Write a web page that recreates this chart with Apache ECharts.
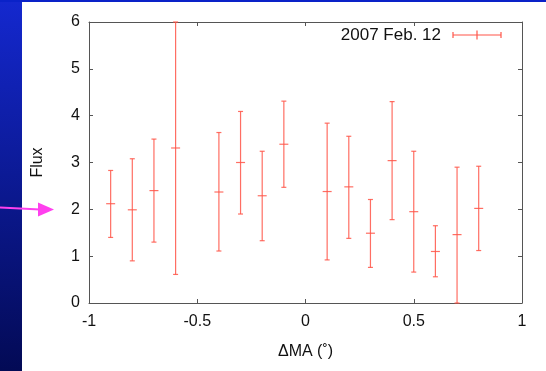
<!DOCTYPE html>
<html><head><meta charset="utf-8">
<script src="https://cdn.jsdelivr.net/npm/echarts@6/dist/echarts.min.js"></script>
<style>
html,body{margin:0;padding:0;width:546px;height:371px;overflow:hidden;background:#fff;}
#c{width:546px;height:371px;}
</style></head><body><div id="c"></div>
<script>
// Data
const deltaMA = [-0.9,-0.8,-0.7,-0.6,-0.4,-0.3,-0.2,-0.1,0.1,0.2,0.3,0.4,0.5,0.6,0.7,0.8];
const flux    = [2.12,1.99,2.40,3.31,2.37,3.00,2.29,3.39,2.38,2.48,1.49,3.04,1.95,1.10,1.46,2.02];
const fluxLow = [1.40,0.90,1.30,0.61,1.11,1.90,1.33,2.47,0.92,1.38,0.76,1.78,0.66,0.56,0.00,1.12];
const fluxHigh= [2.83,3.08,3.50,6.00,3.64,4.09,3.24,4.31,3.84,3.56,2.21,4.30,3.24,1.65,2.90,2.92];
const xTicks = [-1,-0.5,0,0.5,1];
const yTicks = [0,1,2,3,4,5,6];
const seriesName = '2007 Feb. 12';

const data = deltaMA.map((x,i)=>[x, flux[i], fluxLow[i], fluxHigh[i]]);
const RED = '#ff5548';
const chart = echarts.init(document.getElementById('c'), null, {renderer:'canvas'});
function axisCommon(){ return {
  axisLine:{show:true, onZero:false, lineStyle:{color:'#555', width:1}},
  axisTick:{show:true, inside:true, length:4, lineStyle:{color:'#555'}},
  splitLine:{show:false}
};}
chart.setOption({
  animation:false,
  backgroundColor:'#fff',
  grid:{left:89, right:24, top:22, bottom:68, containLabel:false},
  xAxis:[
    Object.assign({type:'value', min:-1, max:1, interval:0.5, position:'bottom',
      axisLabel:{color:'#111', fontFamily:'Liberation Sans', fontSize:16, margin:11,
        formatter:v=>String(v)},
      name:'ΔMA (˚)', nameLocation:'middle', nameGap:41,
      nameTextStyle:{color:'#111', fontFamily:'Liberation Sans', fontSize:16}}, axisCommon()),
    Object.assign({type:'value', min:-1, max:1, interval:0.5, position:'top',
      axisLabel:{show:false}}, axisCommon())
  ],
  yAxis:[
    Object.assign({type:'value', min:0, max:6, interval:1, position:'left',
      axisLabel:{color:'#111', fontFamily:'Liberation Sans', fontSize:16, margin:9},
      name:'Flux', nameLocation:'middle', nameGap:43, nameRotate:90,
      nameTextStyle:{color:'#111', fontFamily:'Liberation Sans', fontSize:16}}, axisCommon()),
    Object.assign({type:'value', min:0, max:6, interval:1, position:'right',
      axisLabel:{show:false}}, axisCommon())
  ],
  series:[{
    type:'custom', name:seriesName, data:data, clip:false,
    renderItem:function(params, api){
      const x = api.value(0);
      const c = api.coord([x, api.value(1)]);
      const lo = api.coord([x, api.value(2)]);
      const hi = api.coord([x, api.value(3)]);
      const cw = 2.5, hw = 4.5;
      const style = {stroke:RED, lineWidth:1.2, opacity:0.85};
      return {type:'group', children:[
        {type:'line', shape:{x1:c[0], y1:hi[1], x2:c[0], y2:lo[1]}, style:style},
        {type:'line', shape:{x1:c[0]-cw, y1:hi[1], x2:c[0]+cw, y2:hi[1]}, style:style},
        {type:'line', shape:{x1:c[0]-cw, y1:lo[1], x2:c[0]+cw, y2:lo[1]}, style:style},
        {type:'line', shape:{x1:c[0]-hw, y1:c[1], x2:c[0]+hw, y2:c[1]}, style:style}
      ]};
    }
  }],
  graphic:[
    {type:'rect', silent:true, z:-10, shape:{x:0,y:0,width:22,height:371},
      style:{fill:new echarts.graphic.LinearGradient(0,0,0,1,[{offset:0,color:'#1428cf'},{offset:1,color:'#030a55'}])}},
    {type:'rect', silent:true, z:-10, shape:{x:0,y:0,width:546,height:2}, style:{fill:'#0a22c8'}},
    {type:'polyline', silent:true, shape:{points:[[0,207.5],[40,209.5]]}, style:{stroke:'#ff40ee', lineWidth:2.2, fill:null}},
    {type:'polygon', silent:true, shape:{points:[[38,202.5],[54,209.5],[38,216.5]]}, style:{fill:'#ff40ee'}},
    {type:'text', silent:true, style:{x:441, y:35, text:seriesName, align:'right', verticalAlign:'middle',
      fill:'#111', font:'17px "Liberation Sans"'}},
    {type:'group', silent:true, children:[
      {type:'line', shape:{x1:453,y1:35,x2:501,y2:35}, style:{stroke:RED, lineWidth:1.2}},
      {type:'line', shape:{x1:453,y1:32,x2:453,y2:38}, style:{stroke:RED, lineWidth:1.2}},
      {type:'line', shape:{x1:501,y1:32,x2:501,y2:38}, style:{stroke:RED, lineWidth:1.2}},
      {type:'line', shape:{x1:477,y1:30.5,x2:477,y2:39.5}, style:{stroke:RED, lineWidth:1.2}}
    ]}
  ]
});
</script></body></html>
